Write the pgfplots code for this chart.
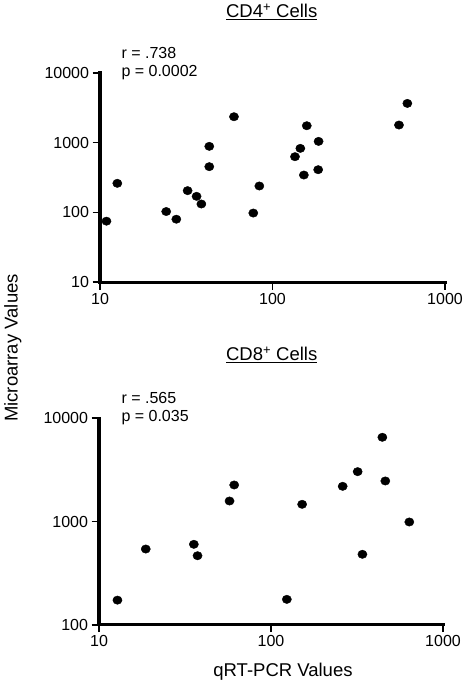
\documentclass[border=0pt]{standalone}
\usepackage{fontspec}
\setmainfont{Liberation Sans}
\usepackage{pgfplots}
\pgfplotsset{compat=1.18}
\begin{document}
\begin{tikzpicture}
\path[use as bounding box] (0,0) rectangle (470pt,686pt);
\begin{axis}[at={(100pt,403.7pt)}, anchor=south west,
  scale only axis, width=345pt, height=209.6pt,
  xmode=log, ymode=log, xmin=10, xmax=1000, ymin=10, ymax=10000,
  axis x line*=bottom, axis y line*=left,
  axis line style={line width=3.2pt, -, line cap=rect},
  xminorticks=false, yminorticks=false,
  tick align=outside, major tick length=7.5pt,
  major tick style={black, line width=1.8pt},
  xtick={10,100,1000}, xticklabels={10,100,1000},
  ytick={10,100,1000,10000}, yticklabels={10,100,1000,10000},
  ticklabel style={font=\fontsize{16}{16}\selectfont},
  clip=false]
\addplot[only marks, mark=*, mark size=4.2pt, mark options={fill=black, draw=black, xscale=1.1}] coordinates {
(10.9,75) (12.6,261) (24.2,103) (27.7,80) (32.2,205) (36.3,170) (38.7,132)
(43.0,883) (43.0,452) (59.8,2344) (77.4,98) (83.9,239) (135,628) (145,826)
(152,343) (158,1742) (185,1040) (184,409) (541,1782) (605,3637)};
\end{axis}
\begin{axis}[at={(99pt,61.3pt)}, anchor=south west,
  scale only axis, width=344pt, height=206.4pt,
  xmode=log, ymode=log, xmin=10, xmax=1000, ymin=100, ymax=10000,
  axis x line*=bottom, axis y line*=left,
  axis line style={line width=3.2pt, -, line cap=rect},
  xminorticks=false, yminorticks=false,
  tick align=outside, major tick length=7.5pt,
  major tick style={black, line width=1.8pt},
  xtick={10,100,1000}, xticklabels={10,100,1000},
  ytick={100,1000,10000}, yticklabels={100,1000,10000},
  ticklabel style={font=\fontsize{16}{16}\selectfont},
  clip=false]
\addplot[only marks, mark=*, mark size=4.2pt, mark options={fill=black, draw=black, xscale=1.1}] coordinates {
(12.8,173) (18.7,541) (35.6,601) (37.4,466) (57.4,1580) (61.1,2259)
(123.6,176) (151.7,1467) (261,2192) (319,3041) (340,481) (444,6546)
(462,2470) (637,989)};
\end{axis}
\node[font=\fontsize{18.5}{20}\selectfont] at (271.7pt,674pt) {\underline{CD4\textsuperscript{+} Cells}};
\node[font=\fontsize{18.5}{20}\selectfont] at (271.7pt,331pt) {\underline{CD8\textsuperscript{+} Cells}};
\node[font=\fontsize{16}{16}\selectfont, anchor=west] at (118pt,632.7pt) {r = .738};
\node[font=\fontsize{16}{16}\selectfont, anchor=west] at (118pt,613.3pt) {p = 0.0002};
\node[font=\fontsize{16}{16}\selectfont, anchor=west] at (118pt,287.7pt) {r = .565};
\node[font=\fontsize{16}{16}\selectfont, anchor=west] at (118pt,268.3pt) {p = 0.035};
\node[font=\fontsize{18.5}{20}\selectfont, rotate=90, anchor=base] at (17.5pt,338pt) {Microarray Values};
\node[font=\fontsize{18.5}{20}\selectfont, anchor=base] at (283pt,9.3pt) {qRT-PCR Values};
\end{tikzpicture}
\end{document}
